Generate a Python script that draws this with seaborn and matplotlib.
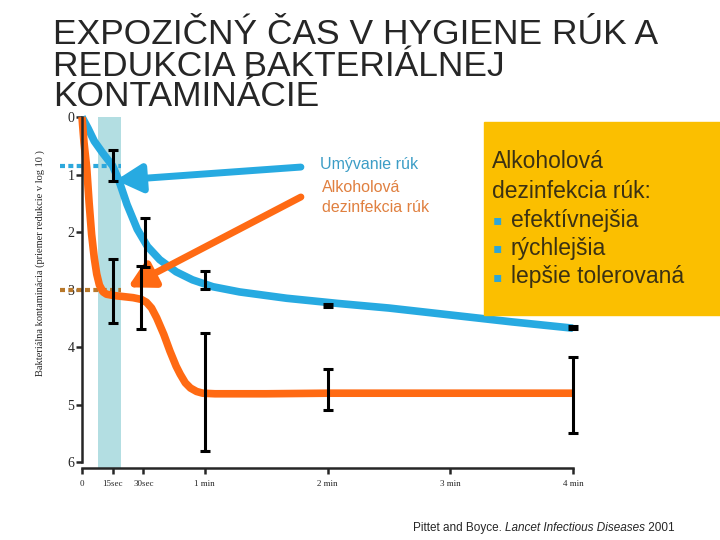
import numpy as np
import seaborn as sns
import matplotlib
matplotlib.use('Agg')
import matplotlib.pyplot as plt
from matplotlib.patches import Rectangle

# values: time in seconds, mean log10 reduction
wash_t = [0, 3, 6, 10, 15, 18, 22, 27, 32, 38, 46, 54, 64, 77, 100, 125, 150, 180, 210, 240]
wash_y = [0, 0.2, 0.42, 0.62, 0.85, 1.1, 1.52, 1.95, 2.25, 2.48, 2.69, 2.83, 2.95, 3.04,
          3.15, 3.24, 3.32, 3.44, 3.56, 3.67]

alc_t = [0, 1, 2.3, 3.5, 4.7, 6, 7.2, 8.5, 10.3, 12, 15, 20, 25, 29, 31.5, 34, 36.5, 40,
         43, 46, 48, 50.5, 53, 56, 59, 65, 90, 120, 180, 240]
alc_y = [0, 0.45, 0.88, 1.5, 2.04, 2.45, 2.73, 2.92, 3.04, 3.08, 3.1, 3.12, 3.14, 3.17,
         3.22, 3.32, 3.49, 3.78, 4.07, 4.33, 4.47, 4.62, 4.71, 4.77, 4.8, 4.81, 4.81,
         4.8, 4.8, 4.8]

wash_bar_t = [15, 31, 60, 120, 240]
wash_bar_lo = [0.57, 1.76, 2.68, 3.25, 3.64]
wash_bar_hi = [1.11, 2.60, 2.99, 3.30, 3.69]

alc_bar_t = [15, 29, 60, 120, 240]
alc_bar_lo = [2.47, 2.59, 3.76, 4.38, 4.17]
alc_bar_hi = [3.58, 3.69, 5.80, 5.10, 5.50]

wash_level = 0.85
alc_level = 3.0
band = (8, 19)

xticks = [0, 15, 30, 60, 120, 180, 240]
xlabels = ['0', '15sec', '30sec', '1 min', '2 min', '3 min', '4 min']
yticks = [0, 1, 2, 3, 4, 5, 6]

title_lines = ['EXPOZIČNÝ ČAS V HYGIENE RÚK A', 'REDUKCIA BAKTERIÁLNEJ', 'KONTAMINÁCIE']
box_head = ['Alkoholová', 'dezinfekcia rúk:']
box_bullets = ['efektívnejšia', 'rýchlejšia', 'lepšie tolerovaná']
ylabel = 'Bakteriálna kontaminácia (priemer redukcie v log 10 )'

BLUE = '#27AAE1'
ORANGE = '#FF6A13'

sns.set_style('ticks')
plt.rcParams['font.family'] = ['Liberation Sans', 'DejaVu Sans']

W, H = 720, 540
fig = plt.figure(figsize=(7.2, 5.4), dpi=100)
ax = fig.add_axes([82 / W, 1 - 468 / H, 491 / W, 351 / H])

ax.axvspan(band[0], band[1], color='#B3DEE2', lw=0, zorder=0)

# dotted guide lines reaching out past the y axis
ax.hlines(wash_level, -10.7, band[1], color='#2DA8DC', lw=3, linestyles=(0, (1.2, 0.8)),
          clip_on=False, zorder=1)
ax.hlines(alc_level, -10.7, band[1], color='#B8782A', lw=3, linestyles=(0, (1.2, 0.8)),
          clip_on=False, zorder=1)

sns.lineplot(x=wash_t, y=wash_y, sort=False, estimator=None, color=BLUE, lw=5.5,
             ax=ax, zorder=2, solid_capstyle='butt', clip_on=False)
sns.lineplot(x=alc_t, y=alc_y, sort=False, estimator=None, color=ORANGE, lw=5.5,
             ax=ax, zorder=2, solid_capstyle='butt', clip_on=False)


def draw_bars(t, lo, hi):
    lo = np.array(lo)
    hi = np.array(hi)
    c = ax.errorbar(t, (lo + hi) / 2, yerr=(hi - lo) / 2, fmt='none', ecolor='black',
                    elinewidth=2.2, capsize=3.3, capthick=2.2, zorder=4)
    for a in list(c[1]) + list(c[2]):
        a.set_clip_on(False)


draw_bars(wash_bar_t, wash_bar_lo, wash_bar_hi)
draw_bars(alc_bar_t, alc_bar_lo, alc_bar_hi)

# arrows from the labels to the curves
ax.annotate('', xy=(16.6, 1.10), xytext=(107, 0.87),
            arrowprops=dict(arrowstyle='-|>,head_length=1.1,head_width=0.6', color=BLUE,
                            lw=5, mutation_scale=14, shrinkA=0, shrinkB=0), zorder=3)
ax.annotate('', xy=(22.4, 2.96), xytext=(107, 1.39),
            arrowprops=dict(arrowstyle='-|>,head_length=1.1,head_width=0.6', color=ORANGE,
                            lw=5, mutation_scale=14, shrinkA=0, shrinkB=0), zorder=3)

ax.set_xlim(0, 240)
ax.set_ylim(6.1, 0)
ax.set_xticks(xticks)
ax.set_xticklabels(xlabels)
ax.set_yticks(yticks)
ax.set_xlabel('')
ax.set_ylabel('')
sns.despine(ax=ax)
ax.spines['left'].set_bounds(0, 6)
ax.spines['bottom'].set_bounds(0, 240)
for s in ['left', 'bottom']:
    ax.spines[s].set_linewidth(1.8)
ax.tick_params(axis='y', length=4, width=1.8, pad=1.5, labelsize=10)
ax.tick_params(axis='x', length=4, width=1.8, pad=5, labelsize=6.5)
for lbl in ax.get_xticklabels() + ax.get_yticklabels():
    lbl.set_family('Liberation Serif')

fig.text(40 / W, 1 - 263 / H, ylabel, rotation=90, family='Liberation Serif', fontsize=7.5,
         ha='center', va='center')

for i, line in enumerate(title_lines):
    fig.text(53 / W, 1 - (35 + 31 * i) / H, line, fontsize=25.5, va='center')

fig.text(320 / W, 1 - 165 / H, 'Umývanie rúk', color='#3C9DC6', fontsize=11.5, va='center')
fig.text(322 / W, 1 - 187 / H, 'Alkoholová', color='#E08040', fontsize=11.5, va='center')
fig.text(322 / W, 1 - 208 / H, 'dezinfekcia rúk', color='#E08040', fontsize=11.5, va='center')

fig.add_artist(Rectangle((484 / W, 1 - 315 / H), 1 - 484 / W, (315 - 122) / H,
                         transform=fig.transFigure, color='#FBBF00', zorder=5))
for i, line in enumerate(box_head):
    fig.text(492 / W, 1 - (162 + 29.5 * i) / H, line, fontsize=16.5, color='#3B3113',
             va='center', zorder=6)
for i, line in enumerate(box_bullets):
    y = 1 - (220 + 28.5 * i) / H
    fig.text(493 / W, y, '\u25aa', fontsize=10, color='#2EA6D6', family='DejaVu Sans',
             va='center', zorder=6)
    fig.text(511 / W, y, line, fontsize=16.5, color='#3B3113', va='center', zorder=6)

t1 = fig.text(413 / W, 1 - 528 / H, 'Pittet and Boyce. ', fontsize=8.5, va='center')
t2 = ax.annotate('Lancet Infectious Diseases', xy=(1, 0), xycoords=t1, va='bottom',
                 style='italic', fontsize=8.5, annotation_clip=False)
ax.annotate(' 2001', xy=(1, 0), xycoords=t2, va='bottom', fontsize=8.5, annotation_clip=False)

fig.savefig('out.png', dpi=100)
